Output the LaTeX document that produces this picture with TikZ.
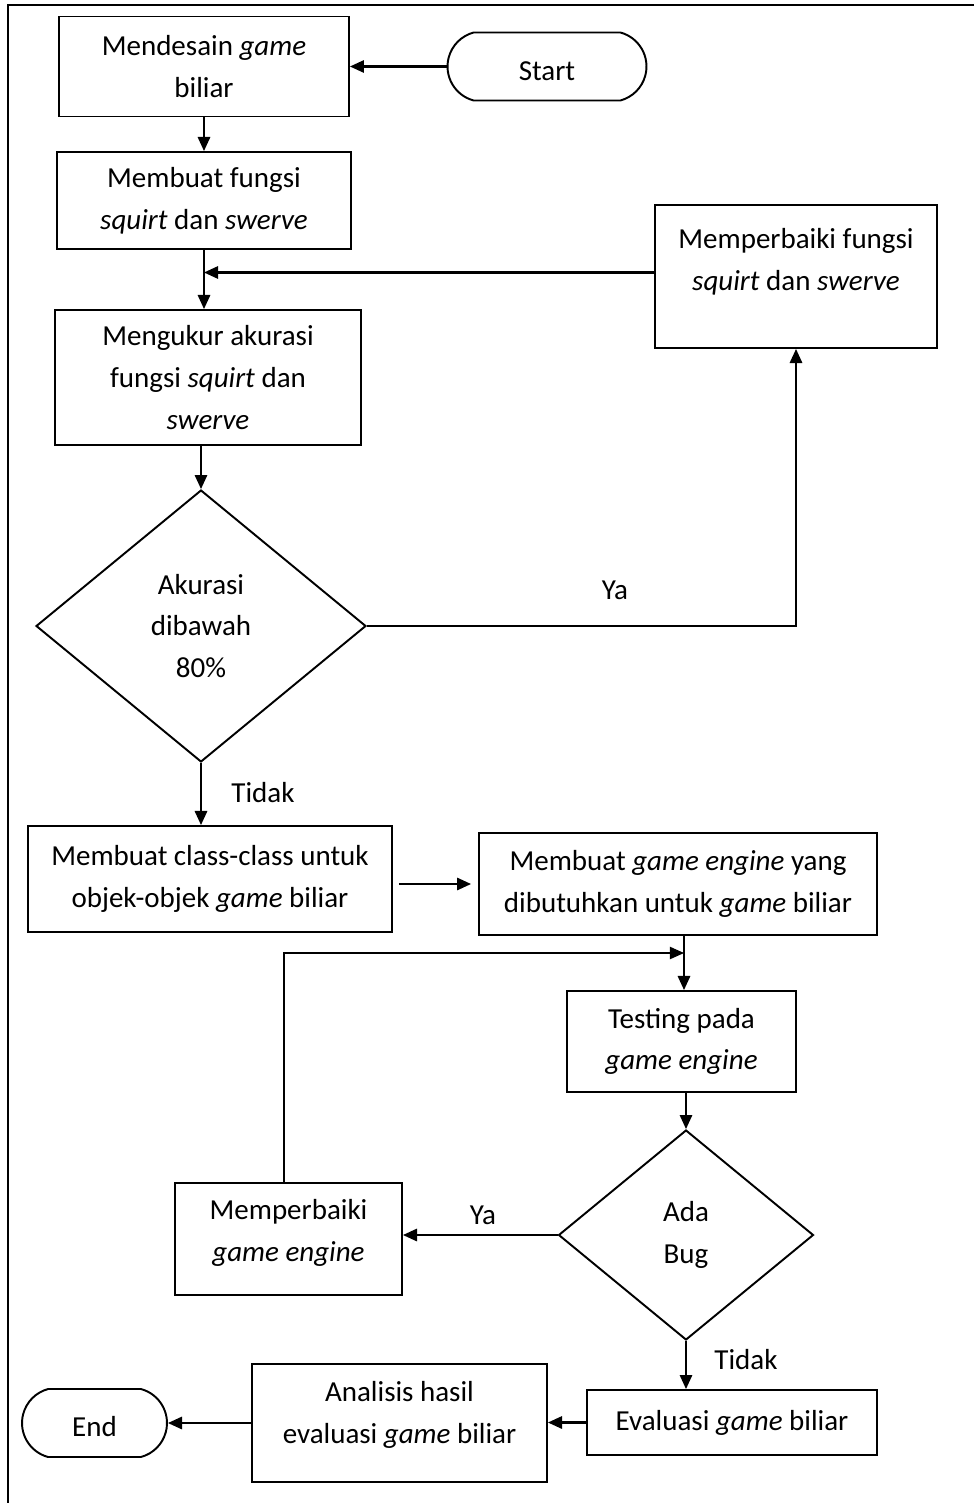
\documentclass[tikz,border=0pt]{standalone}
\usepackage{fontspec}
\setmainfont{Carlito}
\usetikzlibrary{shapes.geometric,shapes.misc,arrows.meta}
\definecolor{ink}{HTML}{000000}

\begin{document}
\begin{tikzpicture}[x=0.02cm,y=-0.02cm,
  txt/.style={font=\fontsize{16.5}{23.8}\selectfont,align=center,inner sep=0pt},
  proc/.style={txt,draw=ink,line width=1.1pt,rectangle},
  term/.style={txt,draw=ink,line width=1.1pt,rounded rectangle,rounded rectangle arc length=150,text height=16pt},
  dec/.style={txt,draw=ink,line width=1.1pt,diamond},
  flow/.style={ink,line width=1.2pt,-{Triangle[length=8pt,width=7pt]}}]
\useasboundingbox (0,0) rectangle (974,1503);
\draw[ink,line width=1.1pt] (974,5)--(8,5)--(8,1503);
% top column
\node[term,minimum width=3.98cm,minimum height=1.36cm] (start) at (547,66.5) {Start};
\node[proc,minimum width=5.8cm,minimum height=2cm] (desain) at (204,66.5) {Mendesain \textit{game}\\biliar};
\node[proc,minimum width=5.88cm,minimum height=1.94cm] (fungsi) at (204,200.5) {Membuat fungsi\\\textit{squirt} dan \textit{swerve}};
\node[proc,minimum width=6.12cm,minimum height=2.7cm] (ukur) at (208,377.5) {Mengukur akurasi\\fungsi \textit{squirt} dan\\\textit{swerve}};
\node[proc,minimum width=5.64cm,minimum height=2.86cm,label={[txt,yshift=0.3cm]center:{Memperbaiki fungsi\\\textit{squirt} dan \textit{swerve}}}] (perbaiki) at (796,276.5) {};
\node[dec,minimum width=6.6cm,minimum height=5.44cm] (akurasi) at (201,626) {Akurasi\\dibawah\\80\%};
% middle part
\node[proc,minimum width=7.28cm,minimum height=2.12cm] (kelas) at (210,879) {Membuat class-class untuk\\objek-objek \textit{game} biliar};
\node[proc,minimum width=7.96cm,minimum height=2.04cm] (engine) at (678,884) {Membuat \textit{game engine} yang\\dibutuhkan untuk \textit{game} biliar};
\node[proc,minimum width=4.58cm,minimum height=2.02cm] (testing) at (681.5,1041.5) {Testing pada\\\textit{game engine}};
\node[dec,minimum width=5.1cm,minimum height=4.2cm] (bug) at (686,1235) {Ada\\Bug};
\node[proc,minimum width=4.54cm,minimum height=2.24cm,label={[txt,yshift=0.12cm]center:{Memperbaiki\\\textit{game engine}}}] (perbaikiGE) at (288.5,1239) {};
% bottom row
\node[proc,minimum width=5.8cm,minimum height=1.3cm] (evaluasi) at (732,1422.5) {Evaluasi \textit{game} biliar};
\node[proc,minimum width=5.9cm,minimum height=2.36cm,label={[txt,yshift=0.16cm]center:{Analisis hasil\\evaluasi \textit{game} biliar}}] (analisis) at (399.5,1423) {};
\node[term,minimum width=2.9cm,minimum height=1.36cm] (end) at (94.5,1423) {End};
\coordinate (gabung) at (684,953);
% labels
\node[txt] (ya1) at (615,590) {Ya};
\node[txt] (tidak1) at (263,793) {Tidak};
\node[txt] (ya2) at (483,1215) {Ya};
\node[txt] (tidak2) at (746,1360) {Tidak};
% connectors
\draw[flow] (start.west)--(desain.east);
\draw[flow] (desain.south)--(fungsi.north);
\draw[flow] (fungsi.south)--(fungsi.south |- ukur.north);
\draw[flow] ([yshift=0.08cm]perbaiki.west)--([yshift=0.08cm]perbaiki.west -| fungsi.south);
\draw[flow] (akurasi.north |- ukur.south)--(akurasi.north);
\draw[flow] (akurasi.east)--(perbaiki.south |- akurasi.east)--(perbaiki.south);
\draw[flow] (akurasi.south)--(akurasi.south |- kelas.north);
\draw[flow,shorten <=0.12cm,shorten >=0.14cm] (kelas.east |- engine.west)--(engine.west);
\draw[flow] (gabung |- engine.south)--(gabung |- testing.north);
\draw[ink,line width=0.6pt,-{Triangle[length=8pt,width=7pt]}] ([xshift=-0.09cm]perbaikiGE.north) |- (gabung);
\draw[flow] (bug.north |- testing.south)--(bug.north);
\draw[flow] (bug.west)--(bug.west -| perbaikiGE.east);
\draw[flow] (bug.south)--(bug.south |- evaluasi.north);
\draw[flow] (evaluasi.west)--(evaluasi.west -| analisis.east);
\draw[flow] (analisis.west)--(end.east);
\end{tikzpicture}
\end{document}
